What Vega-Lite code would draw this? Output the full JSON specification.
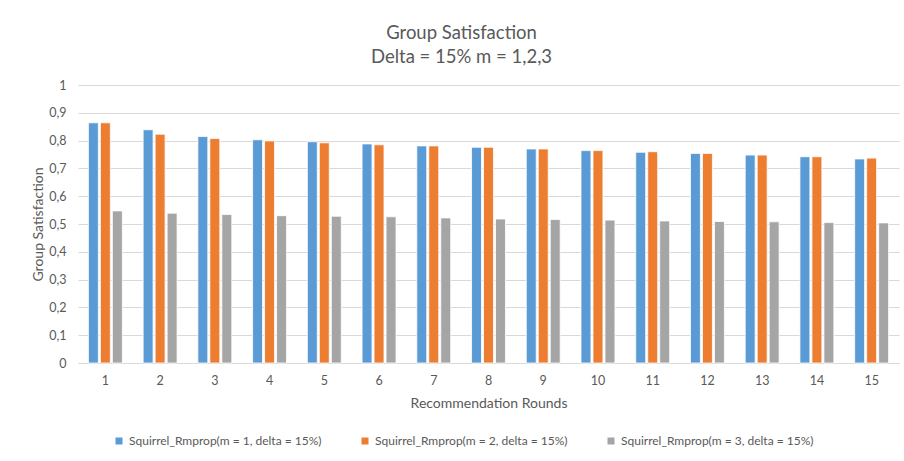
{
  "$schema": "https://vega.github.io/schema/vega-lite/v6.json",
  "autosize": {"type": "none"},
  "width": 821,
  "height": 278,
  "padding": {"left": 78, "top": 85, "right": 5, "bottom": 98},
  "background": "white",
  "config": {
    "font": "Lato",
    "view": {"stroke": null},
    "axis": {"labelColor": "#595959", "titleColor": "#595959", "labelFont": "Lato", "titleFont": "Lato", "titleFontWeight": "normal"}
  },
  "title": {
    "text": ["Group Satisfaction", "Delta = 15% m = 1,2,3"],
    "fontSize": 18.5,
    "fontWeight": "normal",
    "color": "#595959",
    "font": "Lato",
    "lineHeight": 24,
    "anchor": "middle",
    "frame": "group",
    "dx": -27,
    "offset": 13
  },
  "data": {
    "values": [
      {"round": 1, "series": "Squirrel_Rmprop(m = 1, delta = 15%)", "value": 0.864},
      {"round": 1, "series": "Squirrel_Rmprop(m = 2, delta = 15%)", "value": 0.864},
      {"round": 1, "series": "Squirrel_Rmprop(m = 3, delta = 15%)", "value": 0.547},
      {"round": 2, "series": "Squirrel_Rmprop(m = 1, delta = 15%)", "value": 0.839},
      {"round": 2, "series": "Squirrel_Rmprop(m = 2, delta = 15%)", "value": 0.823},
      {"round": 2, "series": "Squirrel_Rmprop(m = 3, delta = 15%)", "value": 0.539},
      {"round": 3, "series": "Squirrel_Rmprop(m = 1, delta = 15%)", "value": 0.815},
      {"round": 3, "series": "Squirrel_Rmprop(m = 2, delta = 15%)", "value": 0.808},
      {"round": 3, "series": "Squirrel_Rmprop(m = 3, delta = 15%)", "value": 0.534},
      {"round": 4, "series": "Squirrel_Rmprop(m = 1, delta = 15%)", "value": 0.803},
      {"round": 4, "series": "Squirrel_Rmprop(m = 2, delta = 15%)", "value": 0.799},
      {"round": 4, "series": "Squirrel_Rmprop(m = 3, delta = 15%)", "value": 0.530},
      {"round": 5, "series": "Squirrel_Rmprop(m = 1, delta = 15%)", "value": 0.796},
      {"round": 5, "series": "Squirrel_Rmprop(m = 2, delta = 15%)", "value": 0.792},
      {"round": 5, "series": "Squirrel_Rmprop(m = 3, delta = 15%)", "value": 0.528},
      {"round": 6, "series": "Squirrel_Rmprop(m = 1, delta = 15%)", "value": 0.788},
      {"round": 6, "series": "Squirrel_Rmprop(m = 2, delta = 15%)", "value": 0.785},
      {"round": 6, "series": "Squirrel_Rmprop(m = 3, delta = 15%)", "value": 0.526},
      {"round": 7, "series": "Squirrel_Rmprop(m = 1, delta = 15%)", "value": 0.781},
      {"round": 7, "series": "Squirrel_Rmprop(m = 2, delta = 15%)", "value": 0.781},
      {"round": 7, "series": "Squirrel_Rmprop(m = 3, delta = 15%)", "value": 0.522},
      {"round": 8, "series": "Squirrel_Rmprop(m = 1, delta = 15%)", "value": 0.776},
      {"round": 8, "series": "Squirrel_Rmprop(m = 2, delta = 15%)", "value": 0.776},
      {"round": 8, "series": "Squirrel_Rmprop(m = 3, delta = 15%)", "value": 0.518},
      {"round": 9, "series": "Squirrel_Rmprop(m = 1, delta = 15%)", "value": 0.770},
      {"round": 9, "series": "Squirrel_Rmprop(m = 2, delta = 15%)", "value": 0.770},
      {"round": 9, "series": "Squirrel_Rmprop(m = 3, delta = 15%)", "value": 0.516},
      {"round": 10, "series": "Squirrel_Rmprop(m = 1, delta = 15%)", "value": 0.764},
      {"round": 10, "series": "Squirrel_Rmprop(m = 2, delta = 15%)", "value": 0.764},
      {"round": 10, "series": "Squirrel_Rmprop(m = 3, delta = 15%)", "value": 0.514},
      {"round": 11, "series": "Squirrel_Rmprop(m = 1, delta = 15%)", "value": 0.758},
      {"round": 11, "series": "Squirrel_Rmprop(m = 2, delta = 15%)", "value": 0.760},
      {"round": 11, "series": "Squirrel_Rmprop(m = 3, delta = 15%)", "value": 0.511},
      {"round": 12, "series": "Squirrel_Rmprop(m = 1, delta = 15%)", "value": 0.754},
      {"round": 12, "series": "Squirrel_Rmprop(m = 2, delta = 15%)", "value": 0.754},
      {"round": 12, "series": "Squirrel_Rmprop(m = 3, delta = 15%)", "value": 0.509},
      {"round": 13, "series": "Squirrel_Rmprop(m = 1, delta = 15%)", "value": 0.748},
      {"round": 13, "series": "Squirrel_Rmprop(m = 2, delta = 15%)", "value": 0.748},
      {"round": 13, "series": "Squirrel_Rmprop(m = 3, delta = 15%)", "value": 0.508},
      {"round": 14, "series": "Squirrel_Rmprop(m = 1, delta = 15%)", "value": 0.742},
      {"round": 14, "series": "Squirrel_Rmprop(m = 2, delta = 15%)", "value": 0.742},
      {"round": 14, "series": "Squirrel_Rmprop(m = 3, delta = 15%)", "value": 0.505},
      {"round": 15, "series": "Squirrel_Rmprop(m = 1, delta = 15%)", "value": 0.734},
      {"round": 15, "series": "Squirrel_Rmprop(m = 2, delta = 15%)", "value": 0.737},
      {"round": 15, "series": "Squirrel_Rmprop(m = 3, delta = 15%)", "value": 0.504}
    ]
  },
  "mark": {"type": "bar", "stroke": "white", "strokeWidth": 0.8},
  "encoding": {
    "x": {
      "field": "round",
      "type": "ordinal",
      "scale": {"paddingInner": 0.38, "paddingOuter": 0.19},
      "axis": {
        "title": "Recommendation Rounds",
        "titleFontSize": 14,
        "titleY": 40,
        "titleBaseline": "middle",
        "labelAngle": 0,
        "labelFontSize": 12.5,
        "labelBaseline": "middle",
        "labelPadding": 17,
        "ticks": false,
        "domainColor": "#D9D9D9",
        "domainWidth": 1,
        "grid": false
      }
    },
    "xOffset": {"field": "series", "type": "nominal", "scale": {"paddingInner": 0.17}},
    "y": {
      "field": "value",
      "type": "quantitative",
      "scale": {"domain": [0, 1], "nice": false},
      "axis": {
        "title": "Group Satisfaction",
        "titleFontSize": 14,
        "titleX": -40,
        "titleY": 139,
        "titleAlign": "center",
        "titleBaseline": "middle",
        "values": [0, 0.1, 0.2, 0.3, 0.4, 0.5, 0.6, 0.7, 0.8, 0.9, 1],
        "labelExpr": "replace(format(datum.value, '~g'), '.', ',')",
        "labelFontSize": 12.5,
        "labelPadding": 12,
        "ticks": false,
        "domain": false,
        "gridColor": "#D9D9D9",
        "gridWidth": 1
      }
    },
    "color": {
      "field": "series",
      "type": "nominal",
      "scale": {"range": ["#5B9BD5", "#ED7D31", "#A5A5A5"]},
      "legend": {
        "title": null,
        "orient": "none",
        "direction": "horizontal",
        "legendX": 35,
        "legendY": 350,
        "symbolType": "square",
        "symbolSize": 49,
        "symbolStrokeWidth": 0,
        "labelFontSize": 12,
        "labelColor": "#595959",
        "labelFont": "Lato",
        "labelOffset": 4,
        "labelLimit": 300,
        "columnPadding": 37
      }
    }
  }
}
